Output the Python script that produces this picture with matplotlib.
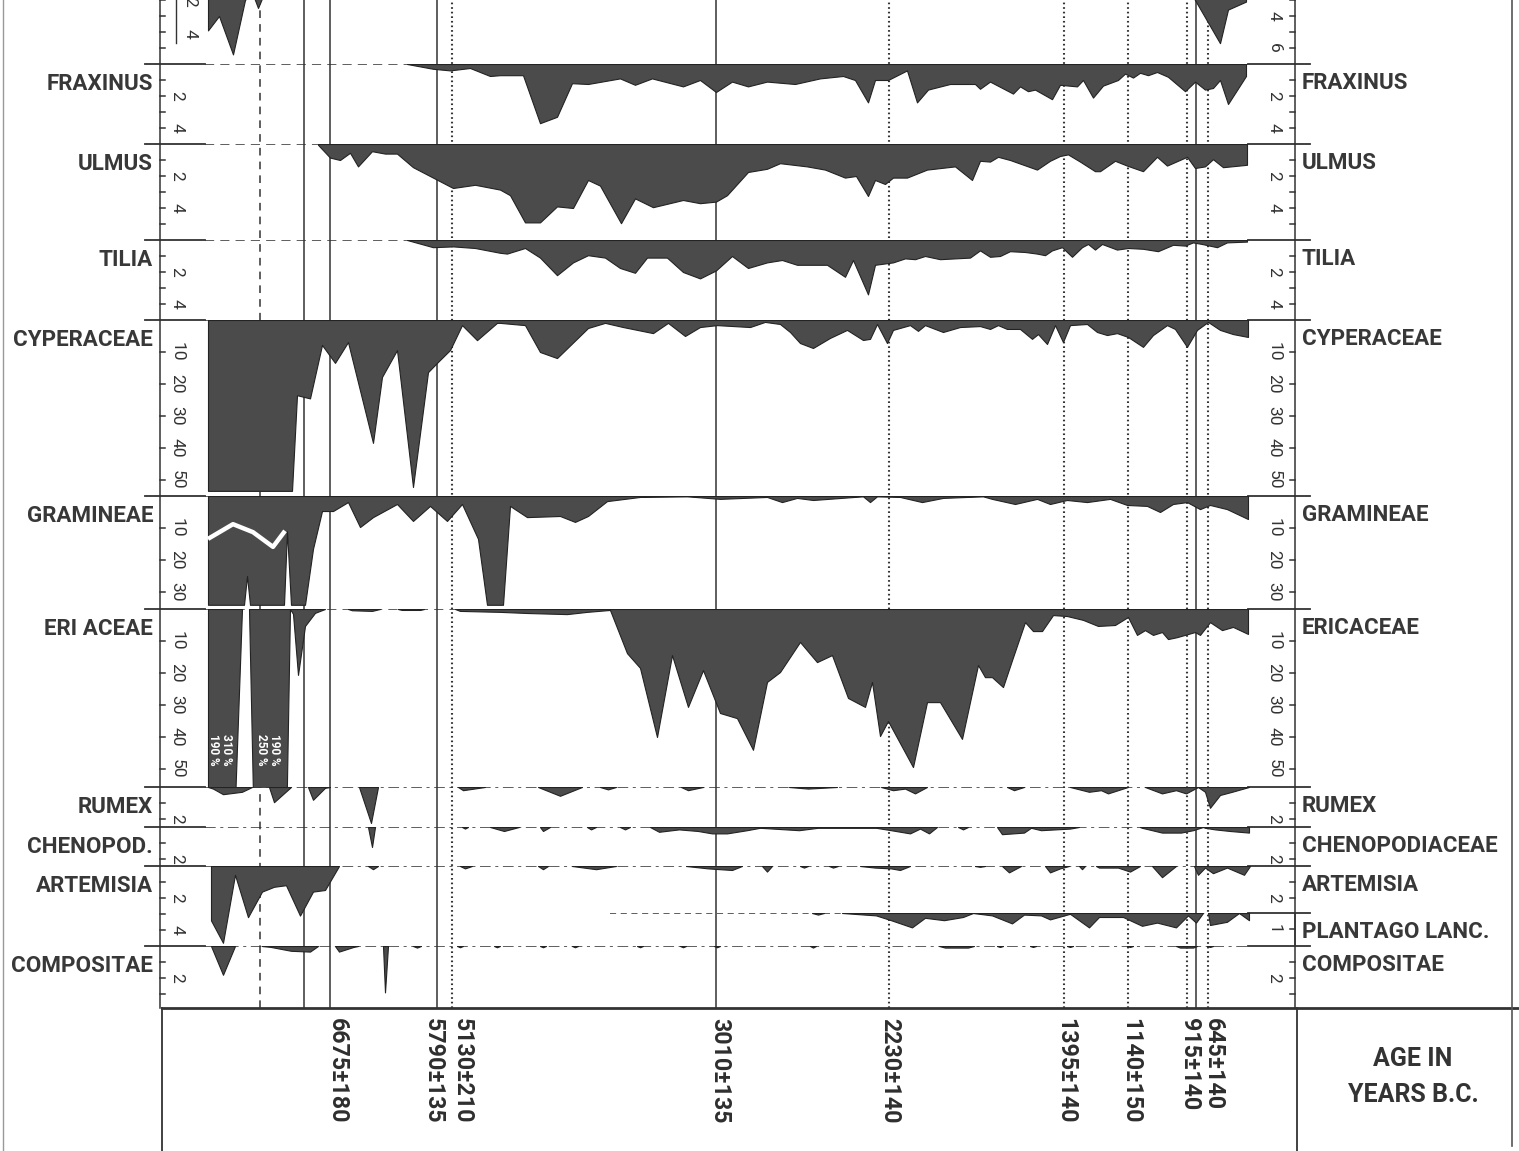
import matplotlib
matplotlib.use("Agg")
import matplotlib.pyplot as plt
from matplotlib.lines import Line2D
from matplotlib.transforms import blended_transform_factory as blend
import numpy as np

W, H = 1519, 1151
INK = "#333333"
FILL = "#4b4b4b"
EDGE = "#232323"
PT = 0.72  # points per pixel at 100 dpi
plt.rcParams["font.family"] = ["Roboto", "DejaVu Sans"]

# sample levels along the profile (arbitrary units, oldest on the left)
# and pollen percentages
top_lev = [8, 19, 33, 45, 52, 58, 64, 80, 300, 600, 900, 990, 995, 1020, 1028, 1046]
top_pct = [4.9, 4.0, 6.4, 3.0, 2.5, 3.5, 2.6, 1.5, 1.0, 1.5, 1.8, 2.5, 3.0, 5.7, 3.6, 3.1]

fraxinus_lev = [207, 233, 250, 270, 290, 300, 323, 340, 357, 372, 388, 420, 435, 452, 483, 500,
                516, 532, 548, 567, 595, 620, 643, 655, 668, 675, 688, 707, 717, 728, 750, 775,
                780, 790, 813, 820, 828, 835, 852, 860, 877, 883, 893, 903, 918, 925, 933, 940,
                948, 957, 968, 985, 995, 1005, 1013, 1020, 1028, 1046]
fraxinus_pct = [0, 0.3, 0.4, 0.25, 0.75, 0.7, 0.7, 3.7, 3.3, 1.2, 1.25, 0.9, 1.3, 0.9, 1.4, 1.0,
                1.75, 1.1, 1.4, 1.1, 1.25, 0.9, 0.75, 1.0, 2.4, 1.0, 1.0, 0.4, 2.4, 1.6, 1.25, 1.25,
                1.55, 1.1, 1.85, 1.4, 1.7, 1.6, 2.2, 1.3, 1.4, 1.0, 2.1, 1.35, 1.0, 0.6, 0.85, 0.55,
                0.7, 0.5, 0.8, 1.7, 1.1, 1.6, 1.5, 1.0, 2.5, 0.75]

ulmus_lev = [118, 130, 140, 150, 158, 172, 185, 197, 213, 233, 253, 275, 300, 310, 325, 340,
             357, 373, 388, 400, 421, 435, 453, 483, 500, 516, 527, 548, 567, 580, 607, 625,
             645, 656, 668, 675, 685, 693, 707, 727, 755, 772, 780, 790, 798, 810, 837, 850,
             860, 868, 880, 895, 900, 915, 927, 943, 957, 967, 987, 995, 1005, 1013, 1023, 1047]
ulmus_pct = [0.05, 0.85, 1.0, 0.55, 1.4, 0.45, 0.6, 0.6, 1.45, 2.1, 2.75, 2.55, 2.85, 3.2, 4.9, 4.9,
             3.9, 4.0, 2.25, 2.6, 4.95, 3.4, 3.95, 3.5, 3.7, 3.6, 3.2, 1.75, 1.55, 1.2, 1.4, 1.6,
             2.1, 2.0, 3.25, 2.25, 2.5, 2.1, 2.1, 1.6, 1.4, 2.25, 1.05, 1.1, 0.8, 1.0, 1.6, 1.05,
             0.75, 0.65, 1.1, 1.7, 1.7, 1.05, 1.35, 1.7, 0.8, 1.35, 0.8, 1.5, 1.4, 0.95, 1.45, 1.3]

tilia_lev = [207, 233, 253, 275, 300, 307, 325, 340, 357, 373, 388, 405, 420, 435, 447, 467,
             483, 500, 516, 532, 548, 567, 582, 597, 627, 645, 653, 668, 675, 693, 705, 715,
             725, 740, 770, 780, 790, 800, 810, 825, 837, 845, 852, 862, 872, 882, 888, 895,
             902, 917, 928, 943, 958, 973, 985, 993, 1002, 1017, 1027, 1047]
tilia_pct = [0, 0.45, 0.4, 0.5, 0.8, 0.85, 0.5, 1.1, 2.2, 1.4, 0.95, 1.1, 1.75, 2.05, 1.1, 1.1,
             2.0, 2.4, 1.9, 1.0, 1.75, 1.4, 1.25, 1.55, 1.55, 2.3, 1.25, 3.4, 1.55, 1.4, 1.15, 1.2,
             1.0, 1.2, 1.1, 0.65, 1.05, 1.0, 0.7, 0.75, 0.85, 0.95, 0.65, 0.45, 1.05, 0.45, 0.25, 0.6,
             0.25, 0.6, 0.5, 0.55, 0.7, 0.3, 0.35, 0.15, 0.25, 0.45, 0.15, 0.1]

cyperaceae_lev = [8, 92, 97, 110, 122, 135, 148, 173, 182, 197, 213, 228, 237, 250, 262, 277,
                  297, 300, 325, 340, 357, 388, 405, 423, 453, 468, 485, 500, 517, 550, 565, 580,
                  590, 600, 613, 630, 647, 663, 670, 677, 687, 693, 710, 718, 725, 743, 760, 780,
                  790, 798, 807, 820, 832, 838, 847, 855, 863, 870, 887, 897, 907, 917, 928, 943,
                  953, 967, 975, 987, 997, 1008, 1020, 1033, 1048]
cyperaceae_pct = [53.4, 53.4, 23.5, 24.5, 7.8, 13.4, 6.9, 38.4, 17.8, 9.4, 52.2, 16.3, 13.4, 9.4, 1.6, 6.3,
                  0.9, 0.9, 1.6, 10.0, 11.9, 2.5, 0.9, 2.2, 4.1, 0.9, 5.0, 2.2, 1.6, 2.2, 0.6, 1.25,
                  3.75, 7.2, 8.75, 5.6, 3.1, 6.25, 5.9, 1.25, 7.2, 3.1, 1.6, 3.4, 1.6, 3.75, 2.2, 1.9,
                  2.8, 1.6, 2.8, 2.8, 5.9, 4.4, 7.5, 1.6, 6.9, 1.6, 1.25, 3.75, 4.7, 4.1, 5.3, 8.4,
                  4.7, 1.6, 2.8, 8.4, 3.1, 0.6, 3.1, 4.4, 5.3]

gramineae_lev = [8, 44, 47, 50, 84, 87, 91, 105, 113, 122, 133, 148, 160, 173, 197, 213,
                 230, 247, 262, 278, 287, 303, 310, 327, 360, 375, 388, 407, 440, 487, 520, 567,
                 582, 597, 613, 663, 670, 677, 700, 722, 743, 783, 792, 815, 837, 850, 867, 887,
                 910, 927, 947, 960, 973, 987, 1000, 1010, 1027, 1048]
gramineae_pct = [34, 34, 25, 34, 34, 11, 34, 34, 16.5, 4.7, 4.7, 1.9, 9.7, 6.6, 2.5, 7.8,
                 3.1, 7.8, 2.5, 13.4, 34, 34, 3.1, 6.6, 6.25, 8.1, 6.25, 1.6, 0.3, 0.1, 0.9, 0.3,
                 1.9, 0.6, 1.25, 0.1, 1.9, 0.1, 0.3, 1.9, 0.6, 0.1, 0.9, 2.5, 0.9, 2.5, 1.25, 1.9,
                 0.9, 2.8, 3.1, 5.0, 2.5, 1.9, 4.1, 2.8, 4.1, 7.2]
# second (white) Gramineae curve inside the early block
gramineae2_lev = [8, 33, 53, 73, 85]
gramineae2_pct = [13.4, 8.8, 11.3, 15.9, 10.9]

ericaceae_lev = [8, 20, 42, 49, 62, 76, 90, 93, 98, 105, 115, 125, 148, 152, 172, 180,
                 198, 202, 220, 224, 255, 260, 300, 327, 367, 387, 410, 427, 440, 457, 472, 488,
                 503, 520, 537, 553, 567, 580, 600, 617, 632, 648, 665, 672, 680, 688, 713, 727,
                 740, 762, 778, 785, 792, 803, 812, 825, 833, 842, 853, 867, 883, 898, 915, 928,
                 937, 945, 953, 962, 968, 977, 995, 1000, 1010, 1022, 1033, 1048]
ericaceae_pct = [310, 190, 0, 0, 190, 250, 0, 1.5, 20.6, 5.3, 1.2, 0, 0, 0.4, 0.6, 0,
                 0, 0.3, 0.3, 0, 0, 0.6, 0.9, 1.25, 1.6, 0.9, 0.3, 13.8, 18.4, 40, 14.4, 30.6,
                 19.1, 32.5, 34.1, 44, 22.8, 19.7, 10.3, 16.6, 14.4, 27.8, 30.6, 22.8, 39.7, 35, 49.4, 29.1,
                 29.1, 40.6, 17.5, 21.3, 21.3, 24.4, 16, 4.1, 6.9, 6.9, 1.9, 2.2, 3.4, 5.3, 5.0, 2.5,
                 8.1, 6.6, 8.1, 7.2, 9.4, 8.8, 7.2, 8.1, 4.1, 6.6, 5.6, 7.8]
ericaceae_notes = ["310 %\n190 %", "190 %\n250 %"]
ericaceae_note_lev = [20, 68]

rumex_lev = [8, 13, 23, 42, 52, 69, 74, 91, 108, 113, 125, 130, 159, 171, 178, 258,
             263, 285, 338, 360, 382, 400, 408, 416, 481, 488, 503, 589, 608, 637, 681, 693,
             705, 715, 727, 807, 814, 824, 870, 889, 901, 908, 928, 945, 962, 976, 986, 998,
             1005, 1010, 1020, 1032, 1049]
rumex_pct = [0, 0.1, 0.45, 0.3, 0, 0, 0.95, 0, 0, 0.8, 0.05, 0, 0, 2.25, 0, 0,
             0.2, 0, 0, 0.55, 0, 0, 0.15, 0, 0, 0.2, 0, 0, 0.1, 0, 0, 0.2,
             0.1, 0.4, 0, 0, 0.2, 0, 0, 0.3, 0.2, 0.4, 0, 0, 0.4, 0.2, 0.4, 0,
             0.3, 1.3, 0.5, 0.3, 0]

chenopod_lev = [8, 168, 172, 175, 262, 265, 268, 290, 304, 319, 340, 343, 350, 387, 391, 396,
                420, 425, 430, 450, 459, 479, 498, 512, 527, 547, 560, 599, 618, 676, 691, 710,
                720, 729, 737, 758, 763, 768, 797, 802, 824, 831, 841, 870, 879, 940, 942, 962,
                981, 993, 1003, 1005, 1015, 1030, 1049]
chenopod_pct = [0, 0, 1.25, 0, 0, 0.1, 0, 0, 0.25, 0, 0, 0.25, 0, 0, 0.15, 0,
                0, 0.15, 0, 0, 0.3, 0.15, 0.25, 0.4, 0.4, 0.2, 0.05, 0.2, 0.05, 0.05, 0.2, 0.4,
                0.1, 0.4, 0, 0, 0.15, 0, 0, 0.45, 0.35, 0.05, 0.2, 0.1, 0, 0, 0.05, 0.35,
                0.35, 0.2, 0, 0.05, 0.15, 0.25, 0.35]

artemisia_lev = [11, 23, 35, 48, 62, 74, 86, 100, 113, 125, 132, 139, 168, 173, 178, 260,
                 265, 272, 338, 343, 348, 372, 396, 416, 486, 508, 532, 542, 562, 567, 572, 600,
                 604, 608, 629, 633, 638, 660, 675, 691, 700, 710, 775, 780, 785, 802, 809, 821,
                 845, 850, 860, 869, 879, 882, 885, 896, 899, 918, 930, 940, 952, 962, 976, 994,
                 998, 1005, 1013, 1027, 1044, 1050]
artemisia_pct = [3.4, 4.8, 0.55, 3.2, 1.6, 1.3, 1.2, 3.1, 1.6, 1.5, 0.75, 0, 0, 0.2, 0, 0,
                 0.15, 0, 0, 0.2, 0, 0, 0.2, 0, 0, 0.15, 0.25, 0, 0, 0.35, 0, 0,
                 0.1, 0, 0, 0.1, 0, 0, 0.1, 0.15, 0.25, 0, 0, 0.05, 0, 0, 0.4, 0,
                 0, 0.4, 0.15, 0, 0, 0.2, 0, 0, 0.1, 0.1, 0.35, 0, 0, 0.7, 0, 0,
                 0.55, 0.1, 0.45, 0.1, 0.55, 0]

plantago_lev = [410, 612, 618, 624, 642, 676, 691, 712, 725, 744, 763, 773, 792, 812, 824, 841,
                850, 870, 889, 899, 923, 942, 957, 976, 988, 996, 1003, 1008, 1010, 1027, 1039, 1049]
plantago_pct = [0, 0, 0.1, 0, 0, 0.15, 0.45, 0.9, 0.3, 0.45, 0.25, 0, 0.15, 0.65, 0.1, 0.15,
                0.4, 0.05, 0.9, 0.25, 0.25, 0.8, 0.6, 0.9, 0.15, 0.6, 0, 0, 0.75, 0.55, 0, 0.45]

compositae_lev = [11, 23, 35, 62, 70, 91, 110, 118, 135, 139, 154, 158, 183, 185, 188, 213,
                  217, 221, 257, 260, 263, 294, 297, 300, 340, 343, 346, 372, 375, 378, 437, 440,
                  443, 480, 483, 486, 514, 517, 520, 610, 613, 616, 739, 745, 768, 774, 797, 800,
                  803, 830, 833, 836, 867, 870, 873, 927, 930, 933, 976, 980, 993, 997, 1007, 1010, 1013]
compositae_pct = [0, 1.8, 0, 0, 0.05, 0.3, 0.35, 0, 0, 0.35, 0.05, 0, 0, 2.9, 0, 0,
                  0.1, 0, 0, 0.08, 0, 0, 0.08, 0, 0, 0.08, 0, 0, 0.08, 0, 0, 0.08,
                  0, 0, 0.08, 0, 0, 0.08, 0, 0, 0.1, 0, 0, 0.1, 0.1, 0, 0, 0.06,
                  0, 0, 0.06, 0, 0, 0.06, 0, 0, 0.06, 0, 0, 0.1, 0.1, 0, 0, 0.06, 0]

# radiocarbon dates (levels) and the unlabelled zone lines
solid_lines = [104, 130, 237, 516, 996]
dotted_lines = [252, 689, 864, 928, 987, 1008]
dashed_lines = [60]
date_labels = ["6675±180", "5790±135", "5130±210", "3010±135", "2230±140",
               "1395±140", "1140±150", "915±140", "645±140"]
date_label_lev = [137, 233, 262, 520, 690, 866, 931, 990, 1013]

# ---------------------------------------------------------------- layout
fig = plt.figure(figsize=(W / 100, H / 100), dpi=100)
fig.patch.set_facecolor("white")
renderer = fig.canvas.get_renderer()


def fit_size(text, target_px, **kw):
    # font size that gives the text the width it has on the sheet
    t = fig.text(0, 0, text, fontsize=10, **kw)
    w = t.get_window_extent(renderer).width
    t.remove()
    return 10 * target_px / w


NAME_KW = dict(fontweight="bold", color="#383838")
NAME_SIZE = fit_size("CYPERACEAE", 140, **NAME_KW)
DATE_KW = dict(fontweight="bold", color="#2e2e2e")
DATE_SIZE = fit_size("3010±135", 105, **DATE_KW)
TICK_SIZE = 12.5

SPAN = (160, 1295)          # the two scale bars, pixels
XLIM = (-40, 1095)          # levels at the scale bars
FR = 1 / (SPAN[1] - SPAN[0])  # axes fraction per pixel
DATA_END = 1048


def axes_px(x0, y0, x1, y1):
    return fig.add_axes([x0 / W, 1 - y1 / H, (x1 - x0) / W, (y1 - y0) / H])


# zone / date lines behind the curves
axv = axes_px(SPAN[0], 0, SPAN[1], 1008)
axv.set_xlim(XLIM)
axv.set_ylim(0, 1)
axv.axis("off")
for lev in solid_lines:
    axv.axvline(lev, color=INK, lw=1.1)
for lev in dotted_lines:
    axv.axvline(lev, color=INK, lw=1.5, ls=(0, (0.8, 1.4)))
for lev in dashed_lines:
    axv.axvline(lev, color=INK, lw=1.1, ls=(0, (5, 4)))


def fill_curve(ax, lev, pct):
    lev = np.asarray(lev, float)
    pct = np.asarray(pct, float)
    active = (pct[:-1] > 0) | (pct[1:] > 0)
    i, n = 0, len(active)
    while i < n:
        if not active[i]:
            i += 1
            continue
        j = i
        while j < n and active[j]:
            j += 1
        sl = slice(i, j + 1)
        ax.fill_between(lev[sl], pct[sl], 0, facecolor=FILL, edgecolor=EDGE, lw=0.8, zorder=3)
        i = j


def panel(lev, pct, base, bottom, ppp, lname=None, rname=None, ltick=True, rticks=None,
          llabels=None, rlabels=None, baseline=True, dash=(0, (6, 4)), lab_x=17):
    ax = axes_px(SPAN[0], base, SPAN[1], bottom)
    ymax = (bottom - base) / ppp
    ax.set_xlim(XLIM)
    ax.set_ylim(ymax, 0)
    ax.patch.set_visible(False)
    ax.set_xticks([])
    ax.set_yticks([])
    for s in ("top", "bottom"):
        ax.spines[s].set_visible(False)
    for s in ("left", "right"):
        ax.spines[s].set_color(INK)
        ax.spines[s].set_linewidth(1.1)
    ax.spines["left"].set_visible(ltick)
    tr = blend(ax.transAxes, ax.transData)

    step = 1 if ppp > 5 else 10
    ticks = list(np.arange(step, ymax - 0.3 * step, step))
    if llabels is None:
        llabels = {v: f"{v:g}" for v in ticks if (step == 10 or v % 2 == 0)}
    if rticks is None:
        rticks = ticks
    if rlabels is None:
        rlabels = {v: f"{v:g}" for v in rticks if (step == 10 or v % 2 == 0)}
    if ltick:
        for v in ticks:
            ax.plot([0, 5 * FR], [v, v], transform=tr, color=INK, lw=1.1, clip_on=False)
        for v, t in llabels.items():
            ax.text(lab_x * FR, v, t, transform=tr, rotation=-90, ha="center", va="center",
                    fontsize=TICK_SIZE, color=INK)
    for v in rticks:
        ax.plot([1 - 5 * FR, 1], [v, v], transform=tr, color=INK, lw=1.1, clip_on=False)
    for v, t in rlabels.items():
        ax.text(1 - 21 * FR, v, t, transform=tr, rotation=-90, ha="center", va="center",
                fontsize=TICK_SIZE, color=INK)

    if baseline:
        start = lev[0] if not ltick else 5
        ax.plot([start, DATA_END], [0, 0], color=INK, lw=1.1, ls=dash, zorder=2)
        ax.plot([DATA_END, XLIM[1] + 15], [0, 0], color=INK, lw=1.3, clip_on=False)
        if ltick:
            ax.plot([-15 * FR, 45 * FR], [0, 0], transform=tr, color=INK, lw=1.3, clip_on=False)

    fill_curve(ax, lev, pct)

    if lname:
        ax.annotate(lname, xy=(0, 0), xycoords=tr, xytext=(-7 * PT, -20 * PT),
                    textcoords="offset points", ha="right", va="center",
                    fontsize=NAME_SIZE, **NAME_KW)
    if rname:
        ax.annotate(rname, xy=(1, 0), xycoords=tr, xytext=(7 * PT, -19 * PT),
                    textcoords="offset points", ha="left", va="center",
                    fontsize=NAME_SIZE, **NAME_KW)
    return ax


# cut-off panel at the top of the sheet
ax_top = panel(top_lev, top_pct, -48, 64, 16, llabels={3.1: "2", 5.1: "4"},
               rlabels={4: "4", 6: "6"}, baseline=False, lab_x=30)
ax_top.plot([16 * FR, 16 * FR], [3.0, 5.7], transform=blend(ax_top.transAxes, ax_top.transData),
            color=INK, lw=1.0, clip_on=False)

panel(fraxinus_lev, fraxinus_pct, 64, 144, 16, "FRAXINUS", "FRAXINUS")
panel(ulmus_lev, ulmus_pct, 144, 240, 16, "ULMUS", "ULMUS")
panel(tilia_lev, tilia_pct, 240, 320, 16, "TILIA", "TILIA")
panel(cyperaceae_lev, cyperaceae_pct, 320, 496, 3.2, "CYPERACEAE", "CYPERACEAE")
ax_gr = panel(gramineae_lev, gramineae_pct, 496, 609, 3.2, "GRAMINEAE", "GRAMINEAE")
ax_gr.plot(gramineae2_lev, gramineae2_pct, color="white", lw=3.2, zorder=4,
           solid_capstyle="butt")
ax_er = panel(ericaceae_lev, ericaceae_pct, 609, 787, 3.2, "ERI ACEAE", "ERICACEAE")
for lev, note in zip(ericaceae_note_lev, ericaceae_notes):
    ax_er.text(lev, 44, note, rotation=-90, ha="center", va="center", color="white",
               fontsize=8.5, fontweight="bold", linespacing=0.95, zorder=5)
dd = (0, (7, 3, 2, 3))
panel(rumex_lev, rumex_pct, 787, 827, 16, "RUMEX", "RUMEX", dash=dd)
panel(chenopod_lev, chenopod_pct, 827, 866, 16, "CHENOPOD.", "CHENOPODIACEAE", dash=dd)
panel(artemisia_lev, artemisia_pct, 866, 946, 16, "ARTEMISIA", "ARTEMISIA",
      rticks=[1, 2], rlabels={2: "2"}, dash=dd)
panel(plantago_lev, plantago_pct, 913, 946, 16, None, "PLANTAGO LANC.", ltick=False,
      rlabels={1: "1"}, dash=(0, (4, 3)))
panel(compositae_lev, compositae_pct, 946, 1008, 16, "COMPOSITAE", "COMPOSITAE", dash=dd)

# dates strip along the bottom
axd = axes_px(SPAN[0], 1008, SPAN[1], H)
axd.set_xlim(XLIM)
axd.axis("off")
trd = blend(axd.transData, axd.transAxes)
for lev, lab in zip(date_label_lev, date_labels):
    axd.text(lev, 0.93, lab, transform=trd, rotation=-90, ha="center", va="top",
             fontsize=DATE_SIZE, **DATE_KW)

fig.text(1413 / W, 1 - 1077 / H, "AGE IN\nYEARS B.C.", ha="center", va="center",
         fontsize=18, fontweight="bold", color="#333333", linespacing=1.6)

# frame lines of the sheet
for xs, ys, lw, col in [
    ([162, W], [1008, 1008], 2.0, INK),
    ([162, 162], [1008, H], 1.3, INK),
    ([1297, 1297], [1008, H], 1.3, INK),
    ([1512, 1512], [0, 1146], 1.2, "#555555"),
    ([3, 3], [0, H], 1.0, "#999999"),
]:
    fig.add_artist(Line2D([x / W for x in xs], [1 - y / H for y in ys], lw=lw, color=col))

fig.savefig("out.png", dpi=100, facecolor="white")
